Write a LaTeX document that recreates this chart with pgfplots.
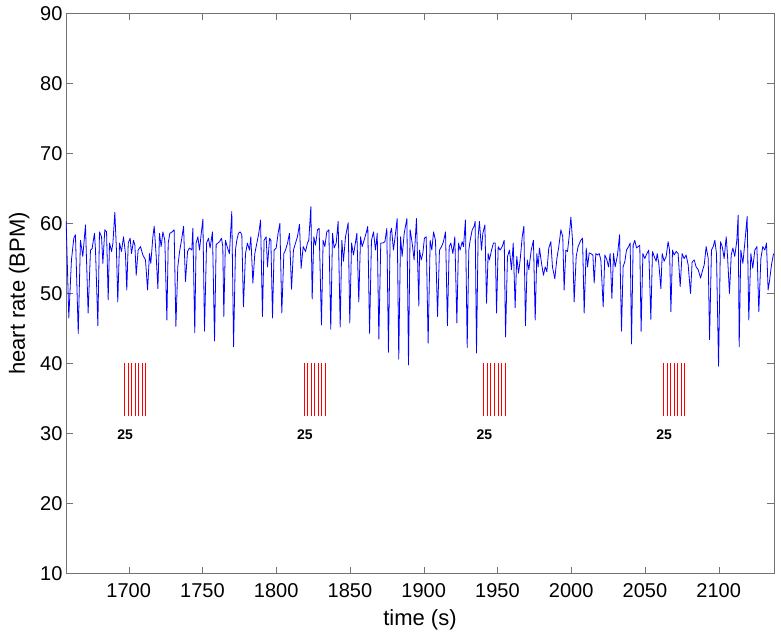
\documentclass[border=0pt]{standalone}
\usepackage{pgfplots}
\pgfplotsset{compat=1.18}
\usepackage{fontspec}
\setmainfont{Liberation Sans}
\begin{document}
\begin{tikzpicture}
\useasboundingbox (-66pt,-63.5pt) rectangle (715pt,573.5pt);
\begin{axis}[
  at={(0pt,0pt)}, anchor=south west,
  scale only axis, width=708pt, height=560pt,
  xmin=1657.5, xmax=2137.5, ymin=10, ymax=90,
  xtick={1700,1750,...,2100}, ytick={10,20,...,90},
  tick align=inside, major tick length=7pt,
  axis line style={draw=black!55},
  tick style={draw=black!55},
  /pgf/number format/assume math mode=true,
  /pgf/number format/set thousands separator={},
  tick label style={font=\fontsize{20}{24}\selectfont},
  label style={font=\fontsize{22}{26}\selectfont},
  xlabel={time (s)}, ylabel={heart rate (BPM)},
  xlabel style={at={(axis description cs:0.5,-0.083)}, anchor=center},
  ylabel style={at={(axis description cs:-0.066,0.5)}, anchor=center},
  xticklabel style={yshift=-6pt},
]
\addplot[blue, line width=0.8pt, line join=round] table {
t v
1657.6 60.3
1659.4 46.5
1661.2 54.8
1662.8 57.9
1663.9 58.4
1665.8 44.3
1667.3 57.6
1668.9 55.3
1670.7 59.8
1672.5 47.2
1674.1 56.2
1675.2 56.4
1676.8 58.6
1677.5 56.2
1679.1 45.4
1680.2 58.8
1681.6 58.1
1682.5 54.3
1683.8 59.1
1685.0 58.8
1686.1 49.1
1687.0 57.2
1688.4 56.0
1689.3 57.2
1690.6 61.6
1691.7 56.2
1692.6 48.8
1693.8 57.2
1695.1 56.0
1696.5 58.1
1697.8 55.7
1698.7 50.5
1699.7 57.2
1701.0 57.9
1701.9 55.7
1703.3 57.6
1704.2 56.9
1705.1 52.6
1706.4 56.2
1708.0 56.7
1709.6 55.5
1711.4 54.8
1712.8 50.5
1714.1 55.7
1715.0 54.3
1716.4 58.1
1717.3 59.6
1718.6 55.5
1719.8 50.7
1720.9 58.6
1722.0 56.7
1723.2 58.8
1724.5 57.6
1725.9 46.2
1726.8 57.2
1727.9 58.6
1729.5 58.8
1730.8 59.1
1732.0 45.3
1733.3 53.8
1734.5 56.0
1735.8 57.6
1737.2 59.6
1738.5 51.7
1739.9 56.0
1741.2 56.5
1742.8 56.2
1743.5 59.3
1744.8 44.4
1745.7 57.2
1746.9 58.1
1748.0 56.2
1749.1 58.4
1750.3 60.6
1751.4 44.6
1752.8 57.2
1754.1 57.9
1755.2 56.5
1756.8 58.8
1758.2 43.2
1759.3 57.0
1760.4 57.2
1761.6 57.4
1762.9 57.9
1763.8 56.7
1764.5 46.7
1765.6 57.6
1767.0 56.5
1768.3 55.7
1769.9 61.7
1771.1 42.4
1772.4 56.2
1773.3 57.6
1774.4 58.6
1775.6 58.8
1776.7 58.4
1777.8 48.1
1779.2 55.7
1780.5 57.2
1781.9 56.2
1782.8 58.1
1784.2 51.5
1785.5 55.7
1786.9 57.2
1788.2 58.6
1789.4 60.5
1790.7 46.7
1791.8 57.6
1793.2 58.1
1794.1 53.8
1795.5 57.9
1796.4 57.6
1797.5 46.5
1798.6 56.2
1800.0 56.5
1801.3 58.6
1802.5 60.0
1803.8 47.2
1805.2 55.7
1806.3 56.2
1807.7 57.2
1809.0 58.6
1810.4 50.6
1811.7 56.2
1813.1 57.2
1814.4 58.1
1815.8 59.9
1816.9 53.6
1818.3 56.7
1819.9 56.0
1821.2 57.2
1822.1 57.6
1823.5 62.4
1824.4 49.2
1825.5 58.1
1826.7 56.9
1828.0 59.1
1829.1 59.3
1830.7 45.5
1831.8 57.6
1833.0 56.7
1834.3 58.8
1835.7 59.1
1837.0 44.9
1838.2 58.6
1839.3 56.5
1840.7 57.2
1842.0 60.3
1843.4 45.2
1844.5 57.6
1845.6 54.6
1847.0 58.1
1848.8 60.1
1849.9 45.8
1851.1 57.2
1852.4 55.5
1853.3 56.7
1854.7 58.6
1856.0 48.8
1857.2 58.1
1858.3 56.7
1859.6 57.6
1861.2 58.8
1862.1 59.6
1863.3 44.3
1864.6 57.6
1866.0 58.8
1867.3 56.2
1868.5 58.6
1869.6 43.5
1870.9 57.2
1872.3 57.2
1873.7 57.4
1875.0 59.3
1876.1 41.6
1877.3 58.6
1878.2 59.3
1879.5 56.2
1880.9 58.6
1882.0 60.7
1883.1 40.6
1884.3 58.1
1885.4 55.3
1886.8 58.6
1888.6 60.7
1889.7 39.8
1890.8 59.1
1892.2 57.2
1893.5 54.8
1895.1 60.7
1896.7 48.2
1897.2 56.2
1898.3 54.8
1899.4 55.7
1900.5 57.9
1901.7 58.1
1903.0 42.9
1904.4 57.6
1905.5 56.2
1906.7 58.8
1908.0 57.6
1909.4 46.7
1910.7 56.2
1912.1 56.7
1913.4 57.4
1914.8 58.8
1916.1 45.4
1917.3 56.7
1918.4 57.2
1919.8 55.7
1921.1 58.1
1922.5 45.8
1923.6 57.2
1924.7 56.2
1926.1 57.4
1927.0 56.7
1928.3 60.5
1929.5 42.3
1930.6 56.2
1931.5 57.6
1932.9 59.1
1934.2 59.6
1934.9 60.3
1935.8 41.5
1936.9 58.1
1937.8 60.3
1939.2 56.2
1940.1 58.6
1941.5 59.8
1942.6 48.6
1943.7 55.7
1944.6 54.8
1946.0 56.2
1947.3 57.2
1948.5 57.2
1949.4 47.2
1950.5 56.7
1951.8 56.2
1953.2 56.7
1954.6 57.6
1955.5 43.8
1956.8 55.3
1958.2 56.2
1959.5 53.4
1960.7 57.2
1962.0 48.0
1963.1 55.3
1964.3 52.9
1965.4 54.8
1966.8 58.1
1967.9 59.6
1969.0 45.4
1970.2 54.8
1971.3 53.4
1972.9 56.2
1974.4 57.6
1975.6 46.2
1976.7 55.7
1977.6 53.8
1978.5 56.5
1979.9 54.3
1981.2 52.6
1982.4 53.8
1983.5 53.1
1984.8 56.5
1986.2 57.4
1987.3 53.8
1988.9 52.1
1990.3 55.0
1991.6 56.7
1993.0 59.1
1994.3 58.1
1995.2 50.5
1996.4 56.2
1997.5 56.0
1998.6 58.1
1999.8 60.9
2000.9 57.6
2002.0 48.8
2003.4 55.3
2004.7 56.7
2006.5 57.6
2007.7 57.9
2008.8 47.2
2010.2 56.5
2011.1 53.8
2012.2 55.8
2013.3 55.7
2014.7 55.5
2015.6 51.5
2016.7 55.7
2017.8 55.5
2019.0 55.7
2020.1 54.8
2021.7 48.1
2022.8 55.5
2024.2 54.8
2025.3 53.8
2026.4 55.7
2027.6 49.3
2028.7 55.7
2029.8 53.8
2031.4 55.5
2032.8 58.4
2034.1 44.6
2035.2 53.8
2036.4 54.6
2037.5 56.2
2038.9 56.7
2040.0 57.2
2040.9 42.8
2042.0 56.9
2043.1 57.6
2044.3 56.5
2045.4 56.7
2046.5 56.9
2047.4 44.6
2048.6 55.7
2049.9 55.0
2051.3 55.7
2052.6 56.2
2054.0 46.3
2055.1 56.0
2056.3 55.3
2057.6 54.6
2058.3 55.7
2059.4 54.3
2060.8 50.7
2061.7 55.7
2063.0 54.6
2064.4 55.3
2065.7 57.4
2066.7 56.2
2067.6 47.4
2068.7 56.2
2069.8 55.5
2071.2 56.0
2072.5 55.7
2073.9 51.0
2075.2 55.7
2076.6 55.0
2077.9 55.5
2079.3 54.1
2080.9 50.0
2082.0 54.5
2083.4 54.8
2084.7 53.8
2086.1 53.4
2087.7 52.2
2088.8 53.1
2090.2 54.1
2091.5 56.7
2092.9 55.0
2093.8 43.4
2095.1 56.2
2096.3 56.7
2097.4 57.6
2098.5 55.7
2099.9 39.6
2101.2 57.4
2102.4 56.7
2103.7 55.0
2105.1 58.1
2106.0 55.3
2107.3 50.0
2108.5 55.5
2109.6 56.5
2110.9 55.3
2112.3 57.6
2113.2 61.2
2113.9 42.4
2115.0 56.2
2116.4 54.3
2117.7 57.2
2119.3 61.0
2120.4 46.2
2121.8 55.7
2123.1 53.6
2124.5 56.2
2125.9 56.7
2127.2 47.4
2128.6 55.0
2129.9 56.7
2131.3 56.2
2132.4 57.2
2133.5 50.5
2134.4 51.7
2135.8 54.1
2137.2 55.7
};
\addplot[red, line width=1pt, unbounded coords=jump] table {
t v
1697.2 32.5
1697.2 40
1697.2 inf
1699.6 32.5
1699.6 40
1699.6 inf
1702.0 32.5
1702.0 40
1702.0 inf
1704.4 32.5
1704.4 40
1704.4 inf
1706.8 32.5
1706.8 40
1706.8 inf
1709.2 32.5
1709.2 40
1709.2 inf
1711.6 32.5
1711.6 40
1711.6 inf
1819.0 32.5
1819.0 40
1819.0 inf
1821.4 32.5
1821.4 40
1821.4 inf
1823.8 32.5
1823.8 40
1823.8 inf
1826.2 32.5
1826.2 40
1826.2 inf
1828.6 32.5
1828.6 40
1828.6 inf
1831.0 32.5
1831.0 40
1831.0 inf
1833.4 32.5
1833.4 40
1833.4 inf
1940.8 32.5
1940.8 40
1940.8 inf
1943.2 32.5
1943.2 40
1943.2 inf
1945.6 32.5
1945.6 40
1945.6 inf
1948.0 32.5
1948.0 40
1948.0 inf
1950.4 32.5
1950.4 40
1950.4 inf
1952.8 32.5
1952.8 40
1952.8 inf
1955.2 32.5
1955.2 40
1955.2 inf
2062.6 32.5
2062.6 40
2062.6 inf
2065.0 32.5
2065.0 40
2065.0 inf
2067.4 32.5
2067.4 40
2067.4 inf
2069.8 32.5
2069.8 40
2069.8 inf
2072.2 32.5
2072.2 40
2072.2 inf
2074.6 32.5
2074.6 40
2074.6 inf
2077.0 32.5
2077.0 40
};
\node[font=\bfseries\fontsize{14}{16}\selectfont] at (axis cs:1697.6,29.8) {25};
\node[font=\bfseries\fontsize{14}{16}\selectfont] at (axis cs:1819.4,29.8) {25};
\node[font=\bfseries\fontsize{14}{16}\selectfont] at (axis cs:1941.2,29.8) {25};
\node[font=\bfseries\fontsize{14}{16}\selectfont] at (axis cs:2063.0,29.8) {25};
\end{axis}
\end{tikzpicture}
\end{document}
